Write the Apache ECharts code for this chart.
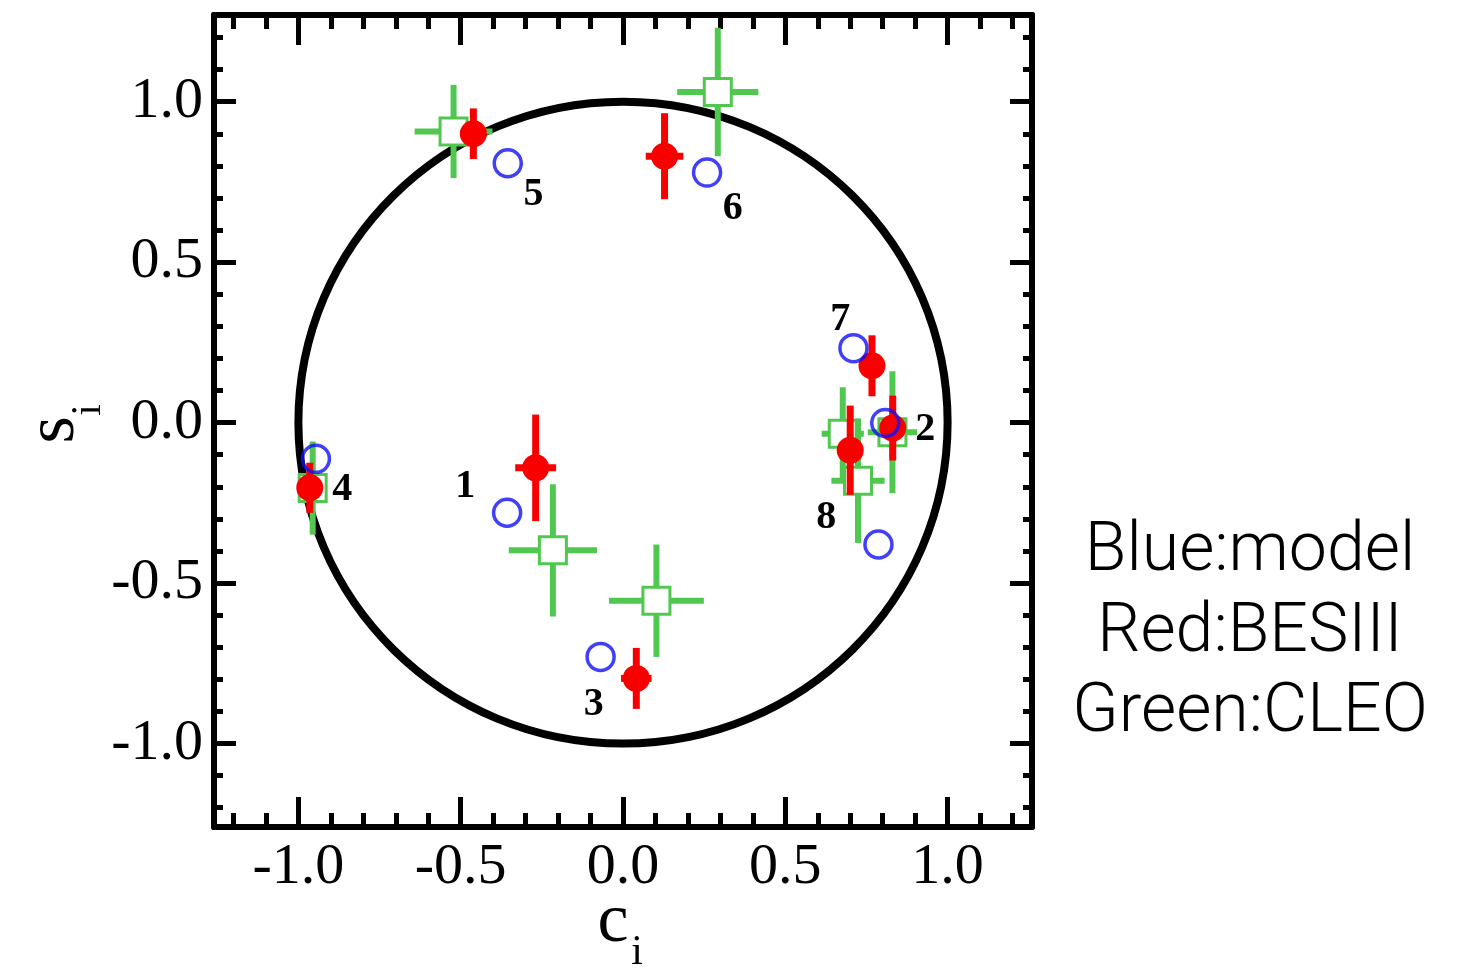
<!DOCTYPE html>
<html>
<head>
<meta charset="utf-8">
<script src="https://cdn.jsdelivr.net/npm/echarts@6/dist/echarts.min.js"></script>
<style>html,body{margin:0;padding:0;background:#fff}#chart{width:1481px;height:969px}</style>
</head>
<body>
<div id="chart"></div>
<script>
// ---- data ----
const binLabels = ['1', '2', '3', '4', '5', '6', '7', '8'];

// Blue: model predictions (c_i, s_i)
const modelC = [-0.357, 0.808, -0.069, -0.946, -0.355, 0.259, 0.710, 0.787];
const modelS = [-0.281, -0.001, -0.730, -0.113, 0.808, 0.779, 0.232, -0.380];

// Red: BESIII measurements
const besC    = [-0.269, 0.831, 0.041, -0.965, -0.461, 0.128, 0.767, 0.700];
const besS    = [-0.141, -0.017, -0.797, -0.203, 0.900, 0.830, 0.177, -0.086];
const besCErr = [0.063, 0.035, 0.047, 0.030, 0.040, 0.058, 0.035, 0.035];
const besSErr = [0.166, 0.101, 0.095, 0.078, 0.079, 0.134, 0.095, 0.139];

// Green: CLEO measurements
const cleoC    = [-0.216, 0.830, 0.103, -0.956, -0.522, 0.292, 0.677, 0.724];
const cleoS    = [-0.398, -0.030, -0.555, -0.204, 0.907, 1.030, -0.035, -0.181];
const cleoCErr = [0.136, 0.076, 0.146, 0.030, 0.120, 0.125, 0.065, 0.082];
const cleoSErr = [0.206, 0.190, 0.175, 0.145, 0.145, 0.200, 0.145, 0.194];

// bin-number annotation anchors (data units)
const labelC = [-0.486, 0.931, -0.090, -0.865, -0.276, 0.338, 0.669, 0.626];
const labelS = [-0.200, -0.022, -0.878, -0.209, 0.710, 0.668, 0.320, -0.296];

// reference unit circle
const circleCenter = [0, 0];
const circleRadius = 1;

// axes
const axisMin = -1.26, axisMaxX = 1.26, axisMinY = -1.26, axisMaxY = 1.27;
const majorTicks = [-1.0, -0.5, 0.0, 0.5, 1.0];
const minorTicks = [-1.2, -1.1, -0.9, -0.8, -0.7, -0.6, -0.4, -0.3, -0.2, -0.1,
                    0.1, 0.2, 0.3, 0.4, 0.6, 0.7, 0.8, 0.9, 1.1, 1.2];
const xTitle = ['c', 'i'];   // c_i
const yTitle = ['s', 'i'];   // s_i
const legendLines = ['Blue:model', 'Red:BESIII', 'Green:CLEO'];

// ---- styles ----
const GREEN = '#50c850', RED = '#f80000', BLUE = '#1010f8';
const SERIF = "'Liberation Serif', 'Times New Roman', serif";

const chart = echarts.init(document.getElementById('chart'), null, {renderer: 'canvas'});

function makeAxis(kind, pos, major, withLabels) {
  const isX = kind === 'x';
  const ax = {
    type: 'value',
    position: pos,
    min: isX ? axisMin : axisMinY,
    max: isX ? axisMaxX : axisMaxY,
    splitLine: {show: false},
    axisLine: {show: major, onZero: false, lineStyle: {color: '#000', width: 6}},
    axisTick: {
      show: true, inside: true,
      customValues: major ? majorTicks : minorTicks,
      length: major ? (isX ? 30 : 22) : (isX ? 14 : 9),
      lineStyle: {color: '#000', width: 5}
    },
    axisLabel: {show: false}
  };
  if (withLabels) {
    ax.axisLabel = {
      show: true, customValues: majorTicks,
      formatter: v => v.toFixed(1),
      color: '#000', fontFamily: SERIF, fontSize: 58, margin: isX ? 12 : 11
    };
  }
  return ax;
}

const xAxes = [
  makeAxis('x', 'bottom', true, true),
  makeAxis('x', 'bottom', false, false),
  makeAxis('x', 'top', true, false),
  makeAxis('x', 'top', false, false)
];
const yAxes = [
  makeAxis('y', 'left', true, true),
  makeAxis('y', 'left', false, false),
  makeAxis('y', 'right', true, false),
  makeAxis('y', 'right', false, false)
];

const cleoData = cleoC.map((c, i) => [c, cleoS[i], cleoCErr[i], cleoSErr[i]]);
const besData = besC.map((c, i) => [c, besS[i], besCErr[i], besSErr[i]]);
const modelData = modelC.map((c, i) => [c, modelS[i]]);
const labelData = labelC.map((c, i) => [c, labelS[i], binLabels[i]]);

function errLines(api, color, w) {
  const c = api.value(0), s = api.value(1), ce = api.value(2), se = api.value(3);
  const l = api.coord([c - ce, s]), r = api.coord([c + ce, s]);
  const t = api.coord([c, s + se]), b = api.coord([c, s - se]);
  return [
    {type: 'line', shape: {x1: l[0], y1: l[1], x2: r[0], y2: r[1]}, style: {stroke: color, lineWidth: w}},
    {type: 'line', shape: {x1: t[0], y1: t[1], x2: b[0], y2: b[1]}, style: {stroke: color, lineWidth: w}}
  ];
}

function titleText(t, x, y, size, rot) {
  return {type: 'text', x: x, y: y, rotation: rot || 0,
          style: {text: t, fill: '#000', font: size + 'px ' + SERIF,
                  textAlign: 'center', textVerticalAlign: 'middle'}};
}

const graphics = [
  titleText(xTitle[0], 613, 923, 70),
  titleText(xTitle[1], 637, 953, 42),
  titleText(yTitle[0], 55, 430, 70, Math.PI / 2),
  titleText(yTitle[1], 89, 410, 42, Math.PI / 2)
].concat(legendLines.map((t, i) => ({
  type: 'text', x: 1250, y: 553 + i * 80.5,
  style: {text: t, fill: '#000', font: '300 68px Roboto, "Liberation Sans", sans-serif',
          textAlign: 'center', textVerticalAlign: 'middle'}
})));

const option = {
  backgroundColor: '#fff',
  animation: false,
  grid: {left: 214, right: 449, top: 15, bottom: 142, containLabel: false, outerBoundsMode: 'none'},
  xAxis: xAxes,
  yAxis: yAxes,
  graphic: graphics,
  series: [
    {
      type: 'custom', name: 'circle', silent: true,
      data: [[circleCenter[0], circleCenter[1], circleRadius]],
      renderItem: (params, api) => {
        const c = api.coord([api.value(0), api.value(1)]);
        const sz = api.size([api.value(2), api.value(2)]);
        return {type: 'ellipse', shape: {cx: c[0], cy: c[1], rx: sz[0], ry: sz[1]},
                style: {fill: 'none', stroke: '#000', lineWidth: 8}};
      }
    },
    {
      type: 'custom', name: 'CLEO', data: cleoData, encode: {x: 0, y: 1},
      renderItem: (params, api) => {
        const p = api.coord([api.value(0), api.value(1)]);
        return {type: 'group', children: errLines(api, GREEN, 6).concat([
          {type: 'rect', shape: {x: p[0] - 13.5, y: p[1] - 13.5, width: 27, height: 27},
           style: {fill: '#fff', stroke: GREEN, lineWidth: 3}}
        ])};
      }
    },
    {
      type: 'scatter', name: 'model', data: modelData, symbol: 'circle', symbolSize: 27,
      itemStyle: {color: 'rgba(0,0,0,0)', borderColor: BLUE, borderWidth: 3.5}
    },
    {
      type: 'custom', name: 'BESIII', data: besData, encode: {x: 0, y: 1},
      renderItem: (params, api) => {
        const p = api.coord([api.value(0), api.value(1)]);
        return {type: 'group', children: errLines(api, RED, 7).concat([
          {type: 'circle', shape: {cx: p[0], cy: p[1], r: 13.5}, style: {fill: RED}}
        ])};
      }
    },
    {
      type: 'custom', name: 'bins', data: labelData, encode: {x: 0, y: 1},
      renderItem: (params, api) => {
        const p = api.coord([api.value(0), api.value(1)]);
        return {type: 'text', x: p[0], y: p[1],
                style: {text: binLabels[params.dataIndex], fill: '#000',
                        font: 'bold 40px ' + SERIF, textAlign: 'center', textVerticalAlign: 'middle'}};
      }
    }
  ]
};
chart.setOption(option);
</script>
</body>
</html>
